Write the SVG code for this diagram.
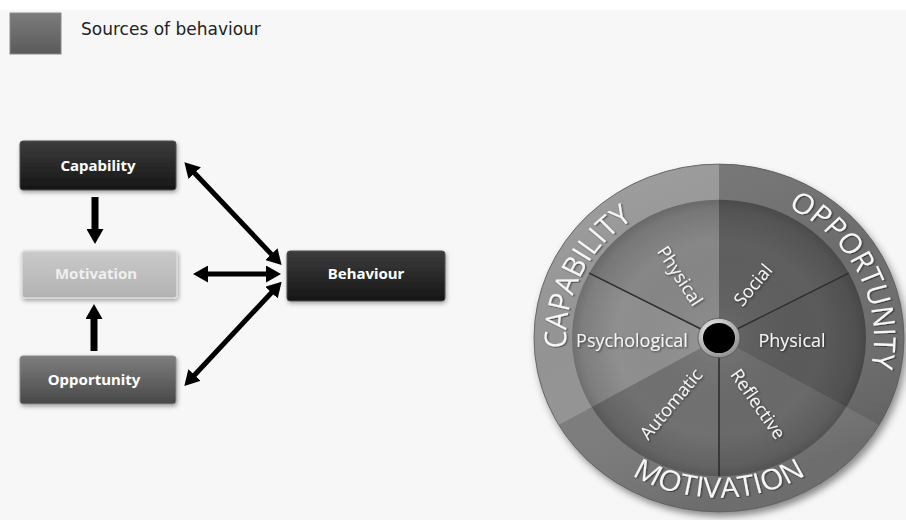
<svg xmlns="http://www.w3.org/2000/svg" width="906" height="520" viewBox="0 0 906 520">
<style>
.lbl{font-family:"Noto Sans","Open Sans",sans-serif;font-weight:bold;font-size:15px;text-anchor:middle;fill:#ffffff}
.arr{stroke:#000;fill:none}
.wt{font-family:"Open Sans","Noto Sans",sans-serif;fill:#f6f6f6;text-anchor:middle}
.inner{font-size:18px}
.outer{font-size:30px}
.seg{stroke:none}
.spoke{stroke:#2e2e2e;stroke-width:1.6}
</style>
<defs>
<linearGradient id="gDark" x1="0" y1="0" x2="0" y2="1"><stop offset="0" stop-color="#3c3c3c"/><stop offset="1" stop-color="#161616"/></linearGradient>
<linearGradient id="gLight" x1="0" y1="0" x2="0" y2="1"><stop offset="0" stop-color="#cacaca"/><stop offset="1" stop-color="#b2b2b2"/></linearGradient>
<linearGradient id="gMid" x1="0" y1="0" x2="0" y2="1"><stop offset="0" stop-color="#7e7e7e"/><stop offset="1" stop-color="#484848"/></linearGradient>
<linearGradient id="gLeg" x1="0" y1="0" x2="0" y2="1"><stop offset="0" stop-color="#7c7c7c"/><stop offset="1" stop-color="#5a5a5a"/></linearGradient>
<linearGradient id="gRim" x1="0" y1="0" x2="0.4" y2="1"><stop offset="0" stop-color="#fff" stop-opacity="0.12"/><stop offset="0.5" stop-color="#fff" stop-opacity="0"/><stop offset="1" stop-color="#000" stop-opacity="0.12"/></linearGradient>
<radialGradient id="gInner" cx="0" cy="0" r="147" gradientUnits="userSpaceOnUse"><stop offset="0" stop-color="#fff" stop-opacity="0.08"/><stop offset="0.7" stop-color="#000" stop-opacity="0"/><stop offset="0.93" stop-color="#000" stop-opacity="0.12"/><stop offset="1" stop-color="#000" stop-opacity="0.22"/></radialGradient>
<radialGradient id="gHub" cx="0.4" cy="0.35" r="0.7"><stop offset="0" stop-color="#ffffff"/><stop offset="1" stop-color="#8a8a8a"/></radialGradient>
<filter id="sh" x="-10%" y="-20%" width="130%" height="150%"><feDropShadow dx="1" dy="2" stdDeviation="2" flood-color="#000" flood-opacity="0.35"/></filter>
<filter id="wsh" x="-10%" y="-10%" width="125%" height="125%"><feDropShadow dx="3" dy="5" stdDeviation="4" flood-color="#000" flood-opacity="0.45"/></filter>
<filter id="ts" x="-10%" y="-30%" width="130%" height="160%"><feDropShadow dx="1" dy="1" stdDeviation="0.8" flood-color="#000" flood-opacity="0.55"/></filter>
<marker id="ah" viewBox="0 0 15 17" refX="2" refY="8.5" markerWidth="15" markerHeight="17" markerUnits="userSpaceOnUse" orient="auto-start-reverse"><path d="M0,0 L15,8.5 L0,17 z" fill="#000"/></marker>
<path id="pCap" d="M-126.8,85.6 A153,153 0 0 1 -10.7,-152.6"/>
<path id="pOpp" d="M10.8,-154.6 A155,155 0 0 1 128.5,86.7"/>
<path id="pMot" d="M-147.2,85 A170,170 0 0 0 147.2,85"/>
</defs>
<rect x="0" y="0" width="906" height="520" fill="#f7f7f7"/>
<rect x="0" y="0" width="906" height="10" fill="#ffffff"/>

<g id="legend">
<rect x="10" y="13" width="51" height="41" fill="url(#gLeg)" stroke="#8a8a8a" stroke-width="1"/>
<text x="81" y="35" font-family="DejaVu Sans, sans-serif" font-size="17" fill="#222">Sources of behaviour</text>
</g>

<g id="connectors">
<line class="arr" x1="95" y1="197" x2="95" y2="231" stroke-width="7" marker-end="url(#ah)"/>
<line class="arr" x1="94" y1="351" x2="94" y2="317" stroke-width="7" marker-end="url(#ah)"/>
<line class="arr" x1="206" y1="274" x2="268" y2="274" stroke-width="5" marker-start="url(#ah)" marker-end="url(#ah)"/>
<line class="arr" x1="193.3" y1="171.7" x2="272.7" y2="255.6" stroke-width="5" marker-start="url(#ah)" marker-end="url(#ah)"/>
<line class="arr" x1="193.2" y1="376.5" x2="272.8" y2="291.2" stroke-width="5" marker-start="url(#ah)" marker-end="url(#ah)"/>
</g>

<g id="capability">
<rect x="20" y="141" width="156" height="49" rx="3" fill="url(#gDark)" stroke="#505050" stroke-width="1" filter="url(#sh)"/>
<text class="lbl" x="98" y="171">Capability</text>
</g>
<g id="motivation">
<rect x="22" y="251" width="155" height="47" rx="3" fill="url(#gLight)" stroke="#dcdcdc" stroke-width="1.5" filter="url(#sh)"/>
<text class="lbl" x="96" y="279" fill="#eeeeee" style="fill:#efefef">Motivation</text>
</g>
<g id="opportunity">
<rect x="20" y="356" width="156" height="48" rx="3" fill="url(#gMid)" stroke="#8a8a8a" stroke-width="1" filter="url(#sh)"/>
<text class="lbl" x="94" y="385">Opportunity</text>
</g>
<g id="behaviour">
<rect x="287" y="251" width="158" height="50" rx="3" fill="url(#gDark)" stroke="#505050" stroke-width="1" filter="url(#sh)"/>
<text class="lbl" x="366" y="279">Behaviour</text>
</g>

<g id="wheel" transform="translate(719,338) scale(1,0.94)">
<circle r="185" fill="#777" filter="url(#wsh)"/>
<path class="seg" d="M0,0 L0,-185 A185,185 0 0 1 160.2,92.5 Z" fill="#6d6d6d"/>
<path class="seg" d="M0,0 L160.2,92.5 A185,185 0 0 1 -160.2,92.5 Z" fill="#7c7c7c"/>
<path class="seg" d="M0,0 L-160.2,92.5 A185,185 0 0 1 0,-185 Z" fill="#939393"/>
<circle r="185" fill="url(#gRim)" stroke="#5a5a5a" stroke-width="0.8"/>
<path class="seg" d="M0,0 L0,-147 A147,147 0 0 1 129.8,-69 Z" fill="#5f5f5f"/>
<path class="seg" d="M0,0 L129.8,-69 A147,147 0 0 1 127.3,73.5 Z" fill="#5b5b5b"/>
<path class="seg" d="M0,0 L127.3,73.5 A147,147 0 0 1 0,147 Z" fill="#6a6a6a"/>
<path class="seg" d="M0,0 L0,147 A147,147 0 0 1 -127.3,73.5 Z" fill="#717171"/>
<path class="seg" d="M0,0 L-127.3,73.5 A147,147 0 0 1 -129.8,-69 Z" fill="#8f8f8f"/>
<path class="seg" d="M0,0 L-129.8,-69 A147,147 0 0 1 0,-147 Z" fill="#878787"/>
<circle r="147" fill="url(#gInner)"/>
<line class="spoke" x1="0" y1="0" x2="-129.8" y2="-69"/>
<line class="spoke" x1="0" y1="0" x2="129.8" y2="-69"/>
<line class="spoke" x1="0" y1="0" x2="0" y2="147"/>
<circle r="21" fill="url(#gHub)" stroke="#555" stroke-width="0.8"/>
<circle r="16" fill="#000"/>
<text class="wt outer" filter="url(#ts)"><textPath href="#pCap" startOffset="50%">CAPABILITY</textPath></text>
<text class="wt outer" filter="url(#ts)"><textPath href="#pOpp" startOffset="50%">OPPORTUNITY</textPath></text>
<text class="wt outer" filter="url(#ts)"><textPath href="#pMot" startOffset="50%">MOTIVATION</textPath></text>
</g>
<g id="wheel-labels" filter="url(#ts)">
<text class="wt inner" x="632" y="341" dy="0.35em">Psychological</text>
<text class="wt inner" x="792" y="341" dy="0.35em">Physical</text>
<text class="wt inner" transform="translate(680,276) rotate(57)" dy="0.35em">Physical</text>
<text class="wt inner" transform="translate(753,285) rotate(-50)" dy="0.35em">Social</text>
<text class="wt inner" transform="translate(671,404) rotate(-50)" dy="0.35em">Automatic</text>
<text class="wt inner" transform="translate(758,404) rotate(55)" dy="0.35em">Reflective</text>
</g>
</svg>
